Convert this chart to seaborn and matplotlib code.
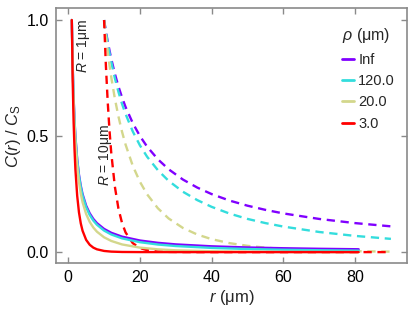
import matplotlib
matplotlib.use("Agg")
import matplotlib.pyplot as plt
from matplotlib.lines import Line2D
import seaborn as sns
import pandas as pd

# ---- data ----
rho_labels = ["Inf", "120.0", "20.0", "3.0"]
colors = ["#8000FF", "#33DDDD", "#D3D78C", "#FF0000"]

# R = 1 um (solid)
r_R1 = [1, 1.25, 1.5, 1.75, 2, 2.5, 3, 3.5, 4, 5, 6, 7, 8, 10, 12, 15, 20, 25, 30, 40, 50, 60, 70, 81]
c_R1_inf = [1, 0.8, 0.667, 0.571, 0.5, 0.4, 0.333, 0.286, 0.25, 0.2, 0.167, 0.143, 0.125, 0.1, 0.0833,
            0.0667, 0.05, 0.04, 0.0333, 0.025, 0.02, 0.0167, 0.0143, 0.0123]
c_R1_120 = [1, 0.798, 0.664, 0.568, 0.496, 0.395, 0.328, 0.280, 0.244, 0.193, 0.160, 0.136, 0.118, 0.0928,
            0.0760, 0.0593, 0.0427, 0.0327, 0.0262, 0.0181, 0.0133, 0.0102, 0.0080, 0.0063]
c_R1_20 = [1, 0.790, 0.650, 0.550, 0.476, 0.371, 0.302, 0.252, 0.215, 0.164, 0.130, 0.106, 0.0881, 0.0638,
           0.0481, 0.0331, 0.0193, 0.0120, 0.0078, 0.0036, 0.0017, 0.0009, 0.0005, 0.0002]
c_R1_3 = [1, 0.736, 0.564, 0.445, 0.358, 0.243, 0.171, 0.124, 0.092, 0.0527, 0.0315, 0.0193, 0.0121, 0.0050,
          0.0021, 0.0006, 0.0001, 0, 0, 0, 0, 0, 0, 0]

# R = 10 um (dashed)
r_R10 = [10, 10.5, 11, 11.5, 12, 13, 14, 15, 16, 18, 20, 22, 25, 28, 32, 36, 40, 45, 50, 55, 60, 70, 80, 90]
c_R10_inf = [1, 0.952, 0.909, 0.870, 0.833, 0.769, 0.714, 0.667, 0.625, 0.556, 0.5, 0.4545, 0.4, 0.357,
             0.3125, 0.278, 0.25, 0.222, 0.2, 0.182, 0.1667, 0.1429, 0.125, 0.111]
c_R10_120 = [1, 0.948, 0.902, 0.859, 0.820, 0.750, 0.691, 0.639, 0.595, 0.520, 0.460, 0.411, 0.353, 0.307,
             0.260, 0.224, 0.195, 0.166, 0.143, 0.125, 0.110, 0.0867, 0.0698, 0.0570]
c_R10_20 = [1, 0.929, 0.865, 0.807, 0.754, 0.662, 0.585, 0.519, 0.463, 0.372, 0.303, 0.249, 0.189, 0.145,
            0.104, 0.0757, 0.0558, 0.0386, 0.0271, 0.0192, 0.0137, 0.0071, 0.0038, 0.0020]
c_R10_3 = [1, 0.806, 0.651, 0.527, 0.428, 0.283, 0.188, 0.126, 0.0846, 0.0386, 0.0178, 0.0083, 0.0027,
           0.0009, 0.0002, 0, 0, 0, 0, 0, 0, 0, 0, 0]

x_ticks = [0, 20, 40, 60, 80]
y_ticks = [0.0, 0.5, 1.0]

# ---- style ----
sns.set_style("ticks")
plt.rcParams["font.family"] = ["Liberation Sans", "DejaVu Sans"]
plt.rcParams["mathtext.fontset"] = "custom"
plt.rcParams["mathtext.rm"] = "Liberation Sans"
plt.rcParams["mathtext.it"] = "Liberation Sans:italic"

fig = plt.figure(figsize=(4.15, 3.12), dpi=100)
ax = fig.add_axes([0.135, 0.157, 0.845, 0.816])

solid_sets = [c_R1_inf, c_R1_120, c_R1_20, c_R1_3]
dash_sets = [c_R10_inf, c_R10_120, c_R10_20, c_R10_3]

for vals, col in zip(dash_sets, colors):
    df = pd.DataFrame({"r": r_R10, "c": vals})
    sns.lineplot(data=df, x="r", y="c", ax=ax, color=col, lw=1.7, legend=False,
                 estimator=None, sort=False)
    ax.lines[-1].set_dashes([3.5, 2.4])

for vals, col in zip(solid_sets, colors):
    df = pd.DataFrame({"r": r_R1, "c": vals})
    sns.lineplot(data=df, x="r", y="c", ax=ax, color=col, lw=1.7, legend=False,
                 estimator=None, sort=False)

ax.set_xlim(-3.4, 94.4)
ax.set_ylim(-0.047, 1.05)
ax.set_xticks(x_ticks)
ax.set_yticks(y_ticks)
ax.set_yticklabels([f"{v:.1f}" for v in y_ticks])

for s in ax.spines.values():
    s.set_visible(True)
    s.set_color("#8a8a8a")
    s.set_linewidth(1.2)
ax.tick_params(direction="in", length=4, width=1, color="#8a8a8a", labelsize=11.5,
               top=True, right=True, pad=5, labelcolor="black")

ax.set_xlabel(r"$\mathit{r}$ (μm)", fontsize=12, labelpad=2)
ax.set_ylabel(r"$\mathit{C}$($\mathit{r}$) / $\mathit{C}_\mathrm{S}$", fontsize=12, labelpad=3)

ax.text(4.2, 0.89, r"$\mathit{R}$ = 1μm", rotation=90, ha="center", va="center", fontsize=10)
ax.text(10.4, 0.42, r"$\mathit{R}$ = 10μm", rotation=90, ha="center", va="center", fontsize=10)

handles = [Line2D([], [], color=c, lw=2) for c in colors]
leg = ax.legend(handles, rho_labels, title=r"$\mathit{\rho}$ (μm)", loc="upper right",
                frameon=False, fontsize=10.5, title_fontsize=11.5, handlelength=0.8,
                handletextpad=0.3, labelspacing=0.5, borderaxespad=0.4,
                bbox_to_anchor=(1.0, 0.975))
leg._legend_box.align = "left"

fig.savefig("out.png", dpi=100)
